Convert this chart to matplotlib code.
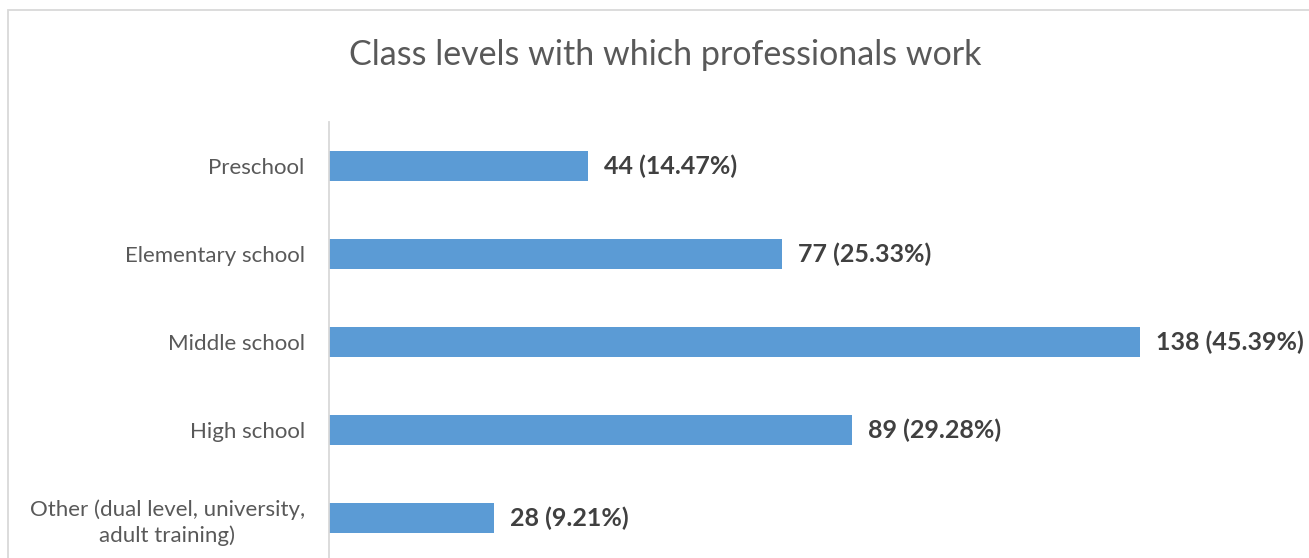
import matplotlib
matplotlib.use("Agg")
import matplotlib.pyplot as plt
from matplotlib.patches import Rectangle

categories = ["Preschool", "Elementary school", "Middle school", "High school",
              "Other (dual level, university,\nadult training)"]
counts = [44, 77, 138, 89, 28]
percents = [14.47, 25.33, 45.39, 29.28, 9.21]

plt.rcParams['font.family'] = ['Lato', 'DejaVu Sans']
txt = '#595959'

fig = plt.figure(figsize=(13.09, 5.58), dpi=100)
# chart area border (cut off at the right and bottom)
fig.patches.append(Rectangle((8 / 1309, -0.1), 1.2, 1 - 10 / 558 + 0.1,
                             transform=fig.transFigure, fill=False,
                             edgecolor='#D9D9D9', linewidth=1.3))

ax = fig.add_axes([329 / 1309, -4 / 558, 976 / 1309, 440 / 558])
y = list(range(len(categories)))
ax.barh(y, counts, height=0.35, color='#5B9BD5')
ax.set_ylim(len(categories) - 0.5, -0.5)
ax.set_xlim(0, 976 / (811 / 138))

for yi, c, p in zip(y, counts, percents):
    ax.text(c + 2.8, yi, f"{c} ({p:.2f}%)", va='center', ha='left',
            fontsize=18, fontweight='bold', color='#404040')

ax.set_yticks(y)
ax.set_yticklabels(categories, fontsize=16, color=txt, ha='right',
                   multialignment='center', linespacing=1.3)
ax.tick_params(axis='y', length=0, pad=17.5)
ax.set_xticks([])
for s in ['top', 'right', 'bottom']:
    ax.spines[s].set_visible(False)
ax.spines['left'].set_color('#D9D9D9')
ax.spines['left'].set_linewidth(1.3)

fig.text(665 / 1309, 1 - 55 / 558, "Class levels with which professionals work",
         ha='center', va='center', fontsize=24.5, color=txt)

fig.savefig("out.png", dpi=100)
